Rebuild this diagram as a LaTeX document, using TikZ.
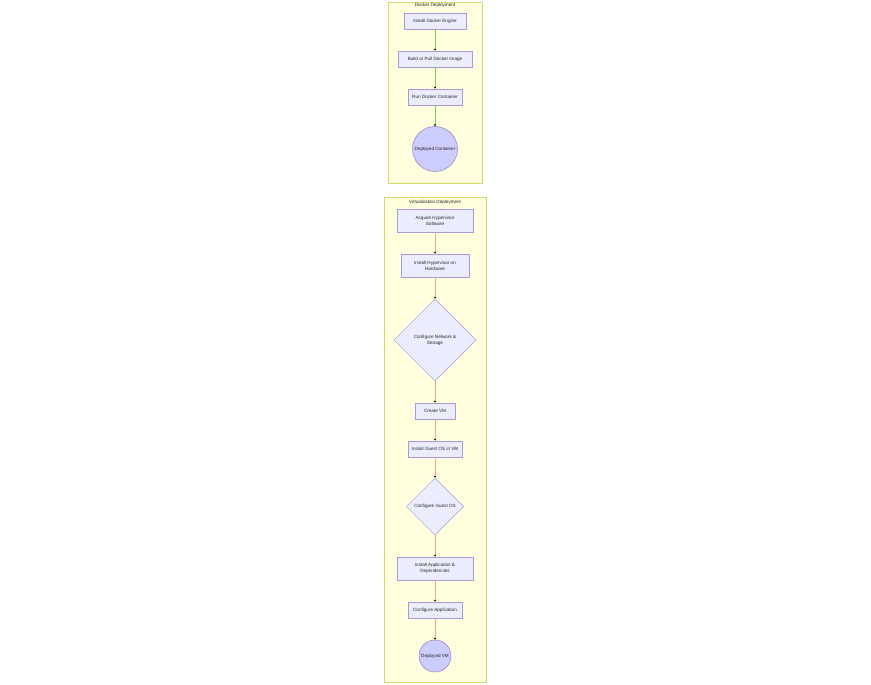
\documentclass[tikz,border=0pt]{standalone}
\usepackage{fontspec}
\setmainfont{Liberation Sans}
\usetikzlibrary{arrows.meta,shapes.geometric}
\definecolor{clfill}{HTML}{FFFFDE}
\definecolor{cldraw}{HTML}{D8D86A}
\definecolor{ndfill}{HTML}{ECECFF}
\definecolor{nddraw}{HTML}{A898DE}
\definecolor{crfill}{HTML}{CCCCFF}
\definecolor{crdraw}{HTML}{8E80C8}
\definecolor{greenedge}{HTML}{7CCB3C}
\definecolor{rededge}{HTML}{F2A098}
\tikzset{
  x=1pt, y=-1pt,
  txt/.style={font=\fontsize{4.6}{5.8}\selectfont, text=black!85, align=center},
  box/.style={txt, draw=nddraw, fill=ndfill, line width=0.5pt, rectangle, inner sep=0pt},
  circ/.style={txt, draw=crdraw, fill=crfill, line width=0.5pt, circle, inner sep=0pt},
  dia/.style={txt, draw=nddraw, fill=ndfill, line width=0.5pt, diamond, inner sep=0pt},
  cluster/.style={draw=cldraw, fill=clfill, line width=0.6pt},
  ctitle/.style={txt},
  gedge/.style={color=greenedge, line width=0.7pt, -{Stealth[length=2pt,width=2pt,color=black]}},
  redge/.style={color=rededge, line width=0.7pt, -{Stealth[length=2pt,width=2pt,color=black]}},
}
\begin{document}
\begin{tikzpicture}
\useasboundingbox (0,0) rectangle (871,685);
\fill[white] (0,0) rectangle (871,685);
% clusters
\draw[cluster] (388,2) rectangle (482,183);
\node[ctitle] (t1) at (435,5.5) {Docker Deployment};
\draw[cluster] (384,197) rectangle (486,682);
\node[ctitle] (t2) at (435,202) {Virtualization Deployment};
% docker nodes
\node[box, minimum width=62pt, minimum height=16pt] (d1) at (435,21) {Install Docker Engine};
\node[box, minimum width=74pt, minimum height=16pt] (d2) at (435,59) {Build or Pull Docker Image};
\node[box, minimum width=54pt, minimum height=16pt] (d3) at (435,97) {Run Docker Container};
\node[circ, minimum size=45pt] (d4) at (435,149) {Deployed Container};
\draw[gedge] (d1) -- (d2);
\draw[gedge] (d2) -- (d3);
\draw[gedge] (d3) -- (d4);
% virtualization nodes
\node[box, minimum width=76pt, minimum height=23pt] (v1) at (435,220.5) {Acquire Hypervisor\\Software};
\node[box, minimum width=68pt, minimum height=23pt] (v2) at (435,265.5) {Install Hypervisor on\\Hardware};
\node[dia, minimum width=82pt, minimum height=82pt] (v3) at (435,340) {Configure Network \&\\Storage};
\node[box, minimum width=40pt, minimum height=16pt] (v4) at (435,411) {Create VM};
\node[box, minimum width=54pt, minimum height=16pt] (v5) at (435,449) {Install Guest OS in VM};
\node[dia, minimum width=57pt, minimum height=57pt] (v6) at (435,506.5) {Configure Guest OS};
\node[box, minimum width=76pt, minimum height=23pt] (v7) at (435,568.5) {Install Application \&\\Dependencies};
\node[box, minimum width=54pt, minimum height=16pt] (v8) at (435,610) {Configure Application};
\node[circ, minimum size=32pt] (v9) at (435,656) {Deployed VM};
\draw[redge] (v1) -- (v2);
\draw[redge] (v2) -- (v3);
\draw[redge] (v3) -- (v4);
\draw[redge] (v4) -- (v5);
\draw[redge] (v5) -- (v6);
\draw[redge] (v6) -- (v7);
\draw[redge] (v7) -- (v8);
\draw[redge] (v8) -- (v9);
\end{tikzpicture}
\end{document}
